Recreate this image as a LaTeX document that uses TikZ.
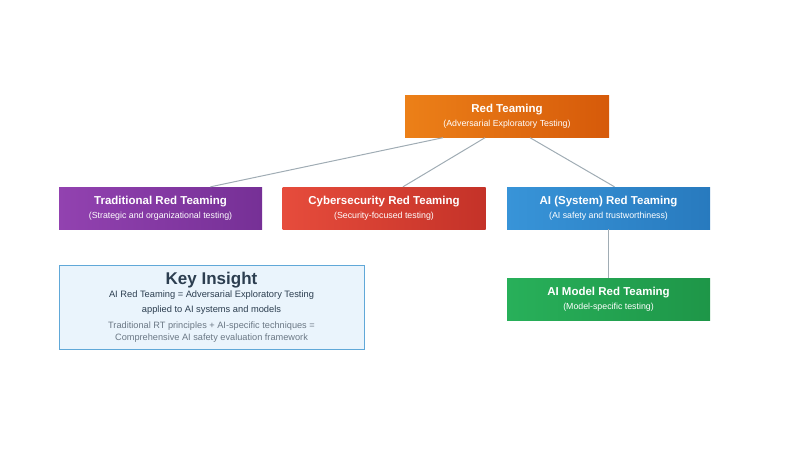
\documentclass[tikz,border=0pt]{standalone}
\usepackage{fontspec}
\setmainfont{Liberation Sans}
\definecolor{orangeL}{RGB}{236,128,24}
\definecolor{orangeR}{RGB}{214,90,10}
\definecolor{purpleL}{RGB}{146,66,176}
\definecolor{purpleR}{RGB}{118,48,150}
\definecolor{redL}{RGB}{230,76,60}
\definecolor{redR}{RGB}{196,50,40}
\definecolor{blueL}{RGB}{56,148,216}
\definecolor{blueR}{RGB}{40,122,190}
\definecolor{greenL}{RGB}{40,176,90}
\definecolor{greenR}{RGB}{30,150,72}
\definecolor{linkgray}{RGB}{160,172,180}
\definecolor{insightfill}{RGB}{234,244,252}
\definecolor{insightborder}{RGB}{96,168,216}
\definecolor{darktext}{RGB}{44,62,80}
\tikzset{
  team/.style={draw=none, minimum width=203pt, minimum height=42pt, text=white,
    align=center, font=\fontsize{8.8}{14}\selectfont},
  link/.style={draw=linkgray, line width=1pt},
}
\newcommand{\teamlabel}[2]{{\fontsize{11.5}{14}\selectfont\bfseries #1}\\#2}
\begin{document}
\begin{tikzpicture}[x=1pt,y=-1pt]
        % canvas
        \useasboundingbox (0,0) rectangle (800,450);
        % root
        \node[team, minimum width=204pt, left color=orangeL, right color=orangeR] (root) at (507,116.5)
            {\teamlabel{Red Teaming}{(Adversarial Exploratory Testing)}};
        % second row
        \node[team, left color=purpleL, right color=purpleR] (trad) at (160.5,208)
            {\teamlabel{Traditional Red Teaming}{(Strategic and organizational testing)}};
        \node[team, left color=redL, right color=redR] (cyber) at (384,208)
            {\teamlabel{Cybersecurity Red Teaming}{(Security-focused testing)}};
        \node[team, left color=blueL, right color=blueR] (aisys) at (608.5,208)
            {\teamlabel{AI (System) Red Teaming}{(AI safety and trustworthiness)}};
        % third row
        \node[team, left color=greenL, right color=greenR] (aimodel) at (608.5,299.5)
            {\teamlabel{AI Model Red Teaming}{(Model-specific testing)}};
        % links
        \draw[link] ([xshift=-64pt]root.south) -- ([xshift=50pt]trad.north);
        \draw[link] ([xshift=-22pt]root.south) -- ([xshift=19pt]cyber.north);
        \draw[link] ([xshift=23pt]root.south) -- ([xshift=6pt]aisys.north);
        \draw[link] (aisys.south) -- (aimodel.north);
        % key insight
        \node[draw=insightborder, fill=insightfill, line width=1pt, minimum width=305pt,
              minimum height=84pt, align=center, text=darktext,
              font=\fontsize{9.3}{13}\selectfont] (insight) at (211.5,307)
            {{\fontsize{17}{16}\selectfont\bfseries Key Insight}\\[0pt]
             AI Red Teaming = Adversarial Exploratory Testing\\[2pt]
             applied to AI systems and models\\[3pt]
             {\color{darktext!70}\fontsize{9.2}{10}\selectfont Traditional RT principles + AI-specific techniques =}\\[-1pt]
             {\color{darktext!70}\fontsize{9.2}{10}\selectfont Comprehensive AI safety evaluation framework}};
\end{tikzpicture}
\end{document}
